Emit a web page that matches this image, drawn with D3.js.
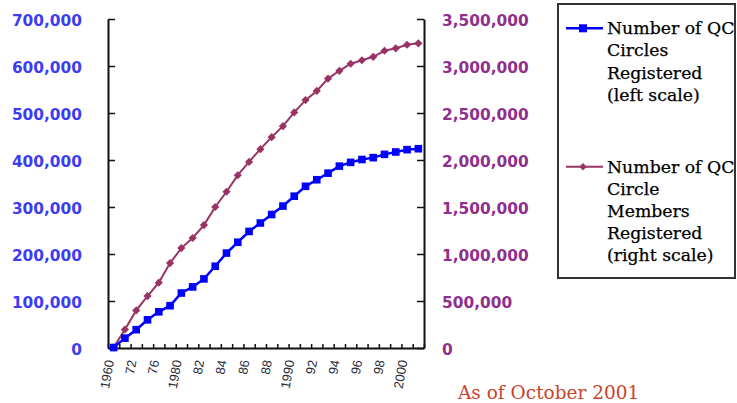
<!DOCTYPE html>
<html><head><meta charset="utf-8">
<script src="https://cdn.jsdelivr.net/npm/d3@7"></script>
<style>body{margin:0;background:#fff}</style>
</head><body><svg id="c" width="737" height="403"></svg>
<script>
// ---- data ----
const tickLabels = ["1960","72","76","1980","82","84","86","88","1990","92","94","96","98","2000"];
const circles = [1000, 21000, 39000, 60000, 77000, 90000, 117000, 130000, 147000, 174000,
  202000, 225000, 248000, 266000, 284000, 302000, 323000, 344000, 358000, 372000,
  387000, 395000, 401000, 405000, 412000, 417000, 422000, 424000];
const members = [5000, 197000, 400000, 552000, 695000, 903000, 1063000, 1170000, 1308000, 1500000,
  1662000, 1838000, 1980000, 2115000, 2243000, 2360000, 2506000, 2637000, 2735000, 2866000,
  2949000, 3024000, 3061000, 3098000, 3162000, 3188000, 3226000, 3241000];
const leftTicks = [0, 100000, 200000, 300000, 400000, 500000, 600000, 700000];
const rightTicks = [0, 500000, 1000000, 1500000, 2000000, 2500000, 3000000, 3500000];
const legendBlue = ["Number of QC", "Circles", "Registered", "(left scale)"];
const legendPurple = ["Number of QC", "Circle", "Members", "Registered", "(right scale)"];
const note = "As of October 2001";

const BLUE = "#0000ff", PURPLE = "#993366";
const svg = d3.select("#c");
const n = circles.length;
const xEdge = d3.scaleLinear().domain([0, n]).range([108, 424]);
const xPt = i => xEdge(i + 0.5);
const yL = d3.scaleLinear().domain([0, 700000]).range([348, 19]);
const yR = d3.scaleLinear().domain([0, 3500000]).range([348, 19]);

// x axis
const gx = svg.append("g").attr("transform", "translate(0,348)")
  .call(d3.axisBottom(xEdge).tickValues(d3.range(n + 1)).tickSize(-4).tickSizeOuter(0)
    .tickFormat(i => (i % 2 === 0 && i / 2 < tickLabels.length) ? tickLabels[i / 2] : ""));
gx.select(".domain").attr("stroke", "#111").attr("stroke-width", 2);
gx.selectAll(".tick line").attr("stroke", "#111").attr("stroke-width", 1.5);
gx.selectAll(".tick text").attr("y", 0).attr("dy", "0.35em").attr("text-anchor", "end")
  .attr("transform", "translate(1,12) rotate(-80)")
  .attr("font-family", "Liberation Sans, Arial, sans-serif").attr("font-size", 13).attr("fill", "#2a2a3a");

// left axis
const gl = svg.append("g").attr("transform", "translate(108,0)")
  .call(d3.axisLeft(yL).tickValues(leftTicks).tickSize(-7).tickSizeOuter(0).tickPadding(26).tickFormat(d3.format(",")));
gl.select(".domain").attr("stroke", "#111").attr("stroke-width", 2);
gl.selectAll(".tick line").attr("stroke", "#111").attr("stroke-width", 1.5);
gl.selectAll(".tick text").attr("dy", "0.42em").attr("font-family", "DejaVu Sans, sans-serif")
  .attr("font-weight", "bold").attr("font-size", 15.4).attr("fill", "#3c3cf5");

// right axis
const gr = svg.append("g").attr("transform", "translate(424,0)")
  .call(d3.axisRight(yR).tickValues(rightTicks).tickSize(-7).tickSizeOuter(0).tickPadding(18).tickFormat(d3.format(",")));
gr.select(".domain").attr("stroke", "#111").attr("stroke-width", 2);
gr.selectAll(".tick line").attr("stroke", "#111").attr("stroke-width", 1.5);
gr.selectAll(".tick text").attr("dy", "0.42em").attr("font-family", "DejaVu Sans, sans-serif")
  .attr("font-weight", "bold").attr("font-size", 15.4).attr("fill", "#8e2f8e");

// purple series (right scale)
svg.append("path").datum(members)
  .attr("d", d3.line().x((d, i) => xPt(i)).y(d => yR(d)))
  .attr("fill", "none").attr("stroke", PURPLE).attr("stroke-width", 2);
svg.append("g").selectAll("rect").data(members).join("rect")
  .attr("x", -2.9).attr("y", -2.9).attr("width", 5.8).attr("height", 5.8)
  .attr("transform", (d, i) => `translate(${xPt(i)},${yR(d)}) rotate(45)`)
  .attr("fill", PURPLE);

// blue series (left scale)
svg.append("path").datum(circles)
  .attr("d", d3.line().x((d, i) => xPt(i)).y(d => yL(d)))
  .attr("fill", "none").attr("stroke", BLUE).attr("stroke-width", 2.5);
svg.append("g").selectAll("rect").data(circles).join("rect")
  .attr("x", (d, i) => xPt(i) - 3.8).attr("y", d => yL(d) - 3.8)
  .attr("width", 7.6).attr("height", 7.6).attr("fill", BLUE);

// legend
const lg = svg.append("g");
lg.append("rect").attr("x", 558).attr("y", 4).attr("width", 177).attr("height", 274)
  .attr("fill", "#fff").attr("stroke", "#333").attr("stroke-width", 2);
const serif = "DejaVu Serif, serif";
function entry(lines, y0, color, marker) {
  lg.append("line").attr("x1", 566).attr("x2", 603).attr("y1", y0).attr("y2", y0)
    .attr("stroke", color).attr("stroke-width", marker === "sq" ? 2.5 : 2);
  if (marker === "sq") {
    lg.append("rect").attr("x", 579).attr("y", y0 - 4).attr("width", 8).attr("height", 8).attr("fill", color);
  } else {
    lg.append("rect").attr("x", -2.6).attr("y", -2.6).attr("width", 5.2).attr("height", 5.2)
      .attr("transform", `translate(583,${y0}) rotate(45)`).attr("fill", color);
  }
  lg.append("g").selectAll("text").data(lines).join("text")
    .attr("x", 607).attr("y", (d, i) => y0 + i * 22.1 + 6)
    .attr("font-family", serif).attr("font-size", 17.3).attr("fill", "#000")
    .attr("stroke", "#000").attr("stroke-width", 0.25).text(d => d);
}
entry(legendBlue, 28.3, BLUE, "sq");
entry(legendPurple, 166.7, PURPLE, "di");

svg.append("text").attr("x", 458).attr("y", 399).attr("font-family", serif)
  .attr("font-size", 18.5).attr("fill", "#c9442e").text(note);
</script>
</body></html>
